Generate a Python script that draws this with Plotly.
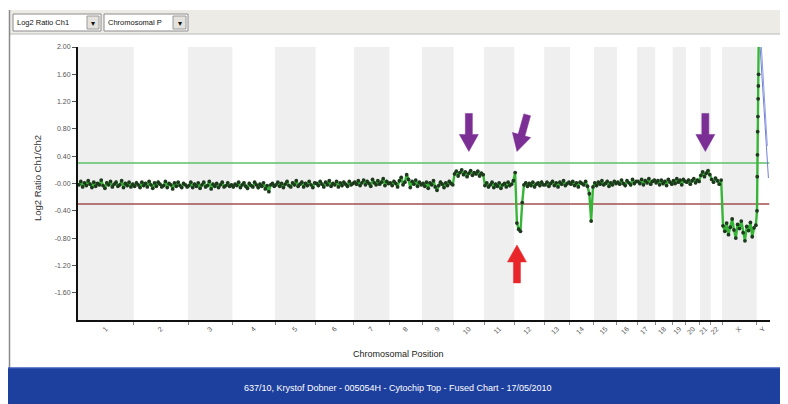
import numpy as np
import plotly.graph_objects as go

# ---------------- data ----------------
chrom_names = ["1", "2", "3", "4", "5", "6", "7", "8", "9", "10", "11", "12",
               "13", "14", "15", "16", "17", "18", "19", "20", "21", "22", "X", "Y"]
chrom_sizes_mb = [249, 243, 198, 191, 181, 171, 159, 146, 141, 136, 135, 134,
                  115, 107, 103, 90, 81, 78, 59, 63, 48, 51, 155, 59]

chr1 = [-0.02, 0.03, -0.05, 0.01, -0.03, 0.04, -0.01, -0.06, 0.02, -0.04, 0.00, -0.02, 0.05, -0.03, -0.07,
        0.01, -0.02, 0.03, -0.05, -0.01, 0.02, -0.04, -0.02, 0.04, -0.06, 0.00, -0.03, 0.02, -0.05, -0.01]
chr2 = [-0.04, 0.01, -0.02, -0.06, 0.02, -0.03, 0.00, -0.05, 0.03, -0.02, -0.07, 0.01, -0.04, 0.02, -0.01,
        -0.05, -0.03, 0.03, -0.06, 0.00, -0.02, -0.08, 0.01, -0.04, 0.02, -0.03, -0.06, 0.00, -0.02, -0.05]
chr3 = [-0.03, 0.02, -0.06, -0.01, -0.04, 0.01, -0.07, -0.02, 0.02, -0.05, -0.03, 0.03,
        -0.08, -0.01, -0.04, 0.00, -0.06, -0.02, 0.02, -0.05, -0.03, 0.01, -0.04, -0.02]
chr4 = [-0.05, -0.01, -0.03, 0.02, -0.06, -0.02, 0.01, -0.04, -0.07, 0.00, -0.03, -0.05,
        0.02, -0.02, -0.06, -0.01, -0.04, 0.01, -0.08, -0.03, -0.12, -0.02, 0.00, -0.04]
chr5 = [-0.02, 0.02, -0.04, 0.00, -0.06, -0.01, 0.03, -0.03, -0.05, 0.01, -0.02,
        0.04, -0.04, -0.01, 0.02, -0.05, 0.00, -0.03, 0.03, -0.02, -0.06, 0.01]
chr6 = [0.00, -0.03, 0.03, -0.01, -0.05, 0.02, -0.02, 0.04, -0.04, 0.00, -0.02,
        0.03, -0.05, 0.01, -0.03, 0.02, -0.01, -0.04, 0.03, -0.02, 0.00]
chr7 = [0.02, -0.01, 0.04, -0.03, 0.01, 0.05, -0.02, 0.03, 0.00, -0.04,
        0.06, 0.01, -0.02, 0.04, -0.01, 0.02, 0.07, -0.03, 0.03, 0.00]
chr8 = [0.01, -0.03, 0.03, 0.00, -0.05, 0.04, 0.09, -0.02, 0.02,
        0.13, 0.06, -0.06, 0.03, -0.01, 0.05, -0.04, 0.02, -0.02]
chr9 = [0.00, -0.04, 0.02, -0.07, 0.01, -0.02, 0.04, -0.05, -0.10,
        -0.03, 0.02, -0.01, -0.06, 0.01, -0.03, 0.03, 0.00, -0.02]
chr10 = [0.14, 0.18, 0.11, 0.16, 0.20, 0.13, 0.17, 0.10, 0.15,
         0.19, 0.12, 0.16, 0.14, 0.18, 0.11, 0.15, 0.13]
chr11 = [-0.03, 0.01, -0.05, -0.02, 0.02, -0.06, -0.01, -0.04, 0.01,
         -0.07, -0.02, 0.00, -0.05, 0.02, -0.03, -0.01, 0.04]
chr12 = [0.16, -0.58, -0.67, -0.70, -0.28, -0.02, 0.01, -0.04, 0.00,
         -0.03, 0.02, -0.05, -0.01, 0.01, -0.03, 0.02, -0.02]
chr13 = [-0.02, 0.02, -0.04, 0.00, 0.03, -0.03, 0.01, -0.05, 0.02, -0.01, 0.04, -0.03, 0.00, 0.02]
chr14 = [-0.01, 0.03, -0.03, 0.01, -0.05, 0.02, 0.00, -0.02, 0.03, -0.04, -0.15, -0.55, -0.05]
chr15 = [0.01, -0.03, 0.02, -0.01, 0.04, -0.02, 0.00, 0.03, -0.04, 0.01, -0.02, 0.03, 0.00]
chr16 = [0.02, -0.01, 0.05, 0.00, -0.03, 0.04, 0.01, -0.02, 0.06, 0.00, 0.03]
chr17 = [0.03, 0.00, 0.06, -0.02, 0.04, 0.01, 0.07, -0.01, 0.03, 0.05]
chr18 = [0.01, 0.04, -0.02, 0.05, 0.00, 0.03, -0.03, 0.06, 0.02, -0.01]
chr19 = [0.04, 0.00, 0.07, 0.02, 0.05, -0.02, 0.06, 0.03]
chr20 = [0.02, 0.05, -0.01, 0.04, 0.07, 0.01, 0.05, 0.03]
chr21 = [0.12, 0.17, 0.10, 0.15, 0.19, 0.13]
chr22 = [0.06, 0.02, 0.08, 0.04, -0.01, 0.05]
chrX = [-0.62, -0.70, -0.58, -0.75, -0.64, -0.52, -0.68, -0.80, -0.60, -0.66,
        -0.55, -0.72, -0.84, -0.63, -0.69, -0.57, -0.78, -0.65, -0.61]
chrY = [-0.40, 0.10, 0.42, 0.76, 0.98, 1.24, 1.43, 1.60, 2.30]
chrY_offsets_mb = [1, 2, 3, 4, 5, 6, 7, 8, 9]

# second channel trace visible on Y (blue)
blue_a_offsets_mb = [9, 52]
blue_a_values = [2.30, 0.08]
blue_b_offsets_mb = [15, 47]
blue_b_values = [2.30, 0.55]

threshold_gain = 0.3
threshold_loss = -0.3

y_tick_vals = [2.0, 1.6, 1.2, 0.8, 0.4, 0.0, -0.4, -0.8, -1.2, -1.6]
y_tick_text = ["2.00", "1.60", "1.20", "0.80", "0.40", "-0.00", "-0.40", "-0.80", "-1.20", "-1.60"]

# arrows: (chromosome, offset into chromosome in Mb, tip value, direction, color)
arrow_marks = [
    ("10", None, 0.47, "down", "#7b2f95"),
    ("12", 12, 0.47, "down-tilt", "#7b2f95"),
    ("21", None, 0.47, "down", "#7b2f95"),
    ("12", 12, -0.90, "up", "#e8262a"),
]

footer_text = "637/10, Krystof Dobner - 005054H - Cytochip Top - Fused Chart - 17/05/2010"

# ---------------- build ----------------
per_chrom = [chr1, chr2, chr3, chr4, chr5, chr6, chr7, chr8, chr9, chr10, chr11, chr12,
             chr13, chr14, chr15, chr16, chr17, chr18, chr19, chr20, chr21, chr22, chrX]
starts = np.concatenate([[0], np.cumsum(chrom_sizes_mb)[:-1]])
total = float(np.sum(chrom_sizes_mb))
centers = starts + np.array(chrom_sizes_mb) / 2.0
start_of = dict(zip(chrom_names, starts))
center_of = dict(zip(chrom_names, centers))

xs, ys = [], []
for name, vals, st, sz in zip(chrom_names, per_chrom, starts, chrom_sizes_mb):
    n = len(vals)
    for i, v in enumerate(vals):
        xs.append(st + (i + 0.5) / n * sz)
        ys.append(v)
for off, v in zip(chrY_offsets_mb, chrY):
    xs.append(start_of["Y"] + off)
    ys.append(v)

# page body has an 8px margin: design in screen pixels, convert to figure pixels
OFF = 8
W, H = 788 - OFF, 404 - OFF
SL, ST, SR, SB = 78, 47, 770, 320          # plot area in screen pixels
L, T = SL - OFF, ST - OFF
R, B = W - (SR - OFF), H - (SB - OFF)
PW, PH = SR - SL, SB - ST
YMIN, YMAX = -2.0, 2.0


def px2paper(sx, sy):
    return (sx - SL) / PW, (SB - sy) / PH


def data2px(x, y):
    return SL + x / total * PW, ST + (YMAX - y) / (YMAX - YMIN) * PH


fig = go.Figure()

fig.add_trace(go.Scatter(
    x=[start_of["Y"] + o for o in blue_a_offsets_mb], y=blue_a_values, mode="lines",
    line=dict(color="#6f7fd8", width=1), showlegend=False, hoverinfo="skip"))
fig.add_trace(go.Scatter(
    x=[start_of["Y"] + o for o in blue_b_offsets_mb], y=blue_b_values, mode="lines",
    line=dict(color="#8f9be0", width=1), showlegend=False, hoverinfo="skip"))

fig.add_trace(go.Scatter(
    x=xs, y=ys, mode="lines+markers",
    line=dict(color="#36b536", width=2.4),
    marker=dict(color="#1d3a1d", size=3.8),
    showlegend=False, cliponaxis=True))

shapes = []
# alternating chromosome bands
for idx, (st, sz) in enumerate(zip(starts, chrom_sizes_mb)):
    if idx % 2 == 0:
        shapes.append(dict(type="rect", xref="x", yref="y", x0=st, x1=st + sz, y0=YMIN, y1=YMAX,
                           fillcolor="#efefef", line=dict(width=0), layer="below"))
# thresholds
shapes.append(dict(type="line", xref="x", yref="y", x0=0, x1=total - 3, y0=threshold_gain, y1=threshold_gain,
                   line=dict(color="#5cbf6a", width=1.6), layer="below"))
shapes.append(dict(type="line", xref="x", yref="y", x0=0, x1=total - 3, y0=threshold_loss, y1=threshold_loss,
                   line=dict(color="#a05050", width=1.3), layer="below"))


def paper_rect(x0, y0, x1, y1, fill, line_color=None, lw=0):
    a = px2paper(x0, y1)
    b = px2paper(x1, y0)
    return dict(type="rect", xref="paper", yref="paper", x0=a[0], y0=a[1], x1=b[0], y1=b[1],
                fillcolor=fill, line=dict(color=line_color or fill, width=lw), layer="above")


def paper_line(x0, y0, x1, y1, color, lw=1):
    a = px2paper(x0, y0)
    b = px2paper(x1, y1)
    return dict(type="line", xref="paper", yref="paper", x0=a[0], y0=a[1], x1=b[0], y1=b[1],
                line=dict(color=color, width=lw), layer="above")


# frame, toolbar and footer (screen pixel coordinates)
shapes.append(paper_rect(9, 10, 800, 34, "#ecebe6"))
shapes.append(paper_line(9, 34, 800, 34, "#b8b8b8", 1))
shapes.append(paper_line(9.5, 10, 9.5, 368, "#8a8a8a", 1.5))
shapes.append(paper_rect(13, 14, 101, 31, "#ffffff", "#8c8c8c", 1))
shapes.append(paper_rect(87, 16, 99, 29, "#e4e2dc", "#9a9a9a", 1))
shapes.append(paper_rect(104, 14, 188, 31, "#ffffff", "#8c8c8c", 1))
shapes.append(paper_rect(173, 16, 186, 29, "#e4e2dc", "#9a9a9a", 1))
shapes.append(paper_rect(0, 368, 800, 410, "#1d3f9e"))
shapes.append(paper_line(0, 368, 800, 368, "#3a5bb8", 1.5))


def fat_arrow(tip_x, tip_y, ux, uy, length=38, shaft_w=7, head_w=19, head_len=17, color="#7b2f95"):
    nrm = np.hypot(ux, uy)
    ux, uy = ux / nrm, uy / nrm
    nx, ny = -uy, ux
    tail = (tip_x - ux * length, tip_y - uy * length)
    neck = (tip_x - ux * head_len, tip_y - uy * head_len)
    pts = [
        (tail[0] + nx * shaft_w / 2, tail[1] + ny * shaft_w / 2),
        (neck[0] + nx * shaft_w / 2, neck[1] + ny * shaft_w / 2),
        (neck[0] + nx * head_w / 2, neck[1] + ny * head_w / 2),
        (tip_x, tip_y),
        (neck[0] - nx * head_w / 2, neck[1] - ny * head_w / 2),
        (neck[0] - nx * shaft_w / 2, neck[1] - ny * shaft_w / 2),
        (tail[0] - nx * shaft_w / 2, tail[1] - ny * shaft_w / 2),
    ]
    pp = [px2paper(*p) for p in pts]
    path = "M " + " L ".join(f"{a:.5f},{b:.5f}" for a, b in pp) + " Z"
    return dict(type="path", xref="paper", yref="paper", path=path,
                fillcolor=color, line=dict(color=color, width=0.5), layer="above")


for chrom, off, val, direction, color in arrow_marks:
    xd = center_of[chrom] if off is None else start_of[chrom] + off
    tx, ty = data2px(xd, val)
    if direction == "down":
        shapes.append(fat_arrow(tx, ty, 0, 1, color=color))
    elif direction == "down-tilt":
        shapes.append(fat_arrow(tx, ty, -0.28, 1, color=color))
    else:
        shapes.append(fat_arrow(tx, ty, 0, -1, color=color))

font_family = "Liberation Sans, Arial, sans-serif"

annotations = []


def px_text(px, py, text, size, color="#222", angle=0, xanchor="center"):
    a = px2paper(px, py)
    annotations.append(dict(x=a[0], y=a[1], xref="paper", yref="paper", text=text, showarrow=False,
                            font=dict(size=size, color=color, family=font_family),
                            textangle=angle, xanchor=xanchor, yanchor="middle"))


px_text(15, 22.5, "Log2 Ratio Ch1", 7.5, "#111", xanchor="left")
px_text(106, 22.5, "Chromosomal P", 7.5, "#111", xanchor="left")
px_text(93, 23, "▾", 8, "#111")
px_text(179.5, 23, "▾", 8, "#111")
px_text(398, 354, "Chromosomal Position", 9, "#222")
px_text(37, 178, "Log2 Ratio Ch1/Ch2", 9.5, "#333", angle=-90)
px_text(398, 388, footer_text, 9, "#ffffff")

fig.update_layout(
    width=W, height=H,
    margin=dict(l=L, r=R, t=T, b=B, autoexpand=False),
    paper_bgcolor="#ffffff", plot_bgcolor="#ffffff",
    font=dict(family=font_family),
    shapes=shapes, annotations=annotations,
    showlegend=False,
)
fig.update_xaxes(
    range=[0, total], tickmode="array", tickvals=list(centers), ticktext=chrom_names,
    tickangle=-45, ticks="", tickfont=dict(size=7, color="#555"),
    showline=True, linecolor="#111", linewidth=2, showgrid=False, zeroline=False,
    minor=dict(tickmode="array", tickvals=list(starts[1:]), ticks="outside", ticklen=3,
               tickcolor="#888", tickwidth=1, showgrid=False),
)
fig.update_yaxes(
    range=[YMIN, YMAX], tickmode="array", tickvals=y_tick_vals, ticktext=y_tick_text,
    ticks="outside", ticklen=4, tickcolor="#555", tickfont=dict(size=7, color="#555"),
    showline=True, linecolor="#111", linewidth=2, showgrid=False, zeroline=False,
)

fig.write_html("out.html")
